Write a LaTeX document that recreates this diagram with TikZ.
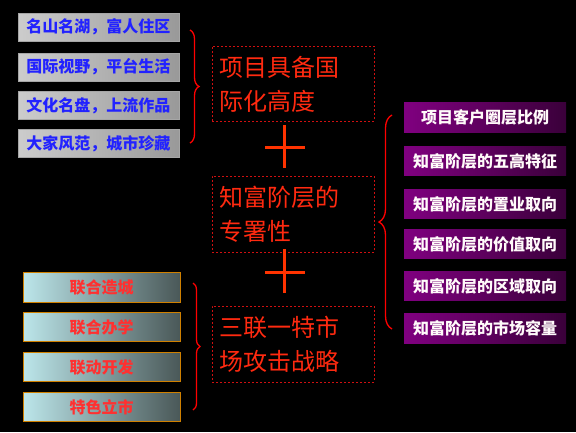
\documentclass[tikz,border=0pt]{standalone}
\usepackage{fontspec}
\newfontfamily\cjk{Noto Sans CJK SC}
\usetikzlibrary{decorations.pathreplacing}
\definecolor{bigred}{HTML}{FF2A10}
\definecolor{plusred}{HTML}{FF3300}
\definecolor{dashred}{HTML}{D01010}
\definecolor{txtblue}{HTML}{2222FF}
\definecolor{boxorange}{HTML}{D08000}
\definecolor{purpleL}{HTML}{800080}
\definecolor{purpleR}{HTML}{3A003A}
\definecolor{cyanL}{HTML}{BCE6EA}
\definecolor{cyanR}{HTML}{4A5858}
\definecolor{cyantext}{HTML}{FF3030}
\tikzset{
  graybox/.style={draw=gray!70, line width=0.4pt, left color=black!20, right color=black!40,
    minimum width=161pt, minimum height=28pt, inner sep=0pt,
    font=\cjk\bfseries\fontsize{16}{16}\selectfont, text=txtblue},
  purplebox/.style={draw=none, left color=purpleL, right color=purpleR,
    minimum width=162pt, minimum height=29.5pt, inner sep=0pt,
    font=\cjk\bfseries\fontsize{16}{16}\selectfont, text=white!92!pink},
  cyanbox/.style={draw=boxorange, line width=0.9pt, left color=cyanL, right color=cyanR,
    minimum width=157pt, minimum height=29.5pt, inner sep=0pt,
    font=\cjk\bfseries\fontsize{16}{16}\selectfont, text=cyantext},
  dashbox/.style={draw=dashred, line width=0.6pt, dash pattern=on 2pt off 2pt,
    minimum width=162pt, minimum height=76pt, inner sep=0pt},
  bigtext/.style={anchor=west, align=left, text=bigred, inner sep=0pt,
    font=\cjk\fontsize{24}{34}\selectfont},
  bracestyle/.style={draw=red, line width=1.3pt, decorate},
  plusline/.style={draw=plusred, line width=3pt},
}
\begin{document}
\begin{tikzpicture}[x=1pt, y=-1pt]
\fill[black] (0,0) rectangle (576,432);
\useasboundingbox (0,0) rectangle (576,432);

% top-left gray boxes
\node[graybox] (g1) at (98.5,27) {名山名湖，富人住区};
\node[graybox] (g2) at (98.5,67) {国际视野，平台生活};
\node[graybox] (g3) at (98.5,105.5) {文化名盘，上流作品};
\node[graybox] (g4) at (98.5,143.5) {大家风范，城市珍藏};

% bottom-left boxes
\node[cyanbox] (c1) at (101.5,287.5) {联合造城};
\node[cyanbox] (c2) at (101.5,327) {联合办学};
\node[cyanbox] (c3) at (101.5,367) {联动开发};
\node[cyanbox] (c4) at (101.5,407) {特色立市};

% right purple boxes
\node[purplebox] (p1) at (485,117.5) {项目客户圈层比例};
\node[purplebox] (p2) at (485,161) {知富阶层的五高特征};
\node[purplebox] (p3) at (485,204) {知富阶层的置业取向};
\node[purplebox] (p4) at (485,244) {知富阶层的价值取向};
\node[purplebox] (p5) at (485,286) {知富阶层的区域取向};
\node[purplebox] (p6) at (485,328.5) {知富阶层的市场容量};

% dashed boxes
\node[dashbox, minimum height=75pt] (d1) at (293,83.5) {};
\node[dashbox] (d2) at (293,214) {};
\node[dashbox] (d3) at (293,344) {};
\node[bigtext] (t1) at (219,84) {项目具备国\\际化高度};
\node[bigtext] (t2) at (219,214) {知富阶层的\\专署性};
\node[bigtext] (t3) at (219,344) {三联一特市\\场攻击战略};

% plus signs
\draw[plusline] (284,125) -- (284,168);
\draw[plusline] (265,147) -- (305,147);
\draw[plusline] (284,249) -- (284,293);
\draw[plusline] (265,272) -- (305,272);

% braces
\coordinate (b1t) at (190,30);
\coordinate (b1b) at (190,143);
\draw[bracestyle, decoration={brace, amplitude=9pt, aspect=0.5}] (b1t) -- (b1b);
\coordinate (b2t) at (392,115);
\coordinate (b2b) at (392,329);
\draw[bracestyle, decoration={brace, amplitude=13pt, aspect=0.5}] (b2b) -- (b2t);
\coordinate (b3t) at (193,283);
\coordinate (b3b) at (193,410);
\draw[bracestyle, decoration={brace, amplitude=7pt, aspect=0.5}] (b3t) -- (b3b);
\end{tikzpicture}
\end{document}
